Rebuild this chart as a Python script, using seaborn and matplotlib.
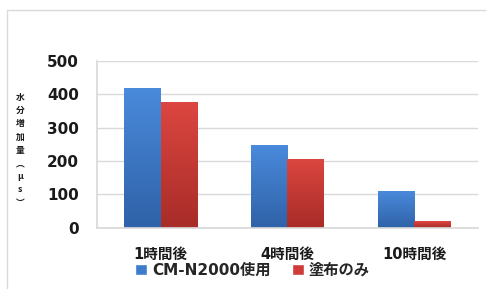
import matplotlib
matplotlib.use("Agg")
import matplotlib.pyplot as plt
import numpy as np
import pandas as pd
import seaborn as sns
from matplotlib.colors import LinearSegmentedColormap
from matplotlib.patches import Rectangle

times = ["1時間後", "4時間後", "10時間後"]
series = ["CM-N2000使用", "塗布のみ"]
cm_n2000 = [417, 248, 109]
coating_only = [375, 207, 19]
yticks = [0, 100, 200, 300, 400, 500]
ylabel = "水\n分\n増\n加\n量\n︵\nμ\ns\n︶"

sns.set_theme(style="white")
plt.rcParams["font.family"] = ["DejaVu Sans", "Noto Sans CJK JP"]

df = pd.DataFrame({
    "time": times * 2,
    "series": [series[0]] * 3 + [series[1]] * 3,
    "value": cm_n2000 + coating_only,
})

colors = {series[0]: "#3D7CCB", series[1]: "#CF3B36"}
grads = {
    series[0]: LinearSegmentedColormap.from_list("b", ["#2F62A8", "#4A8ADB"]),
    series[1]: LinearSegmentedColormap.from_list("r", ["#A82C28", "#DC4640"]),
}

fig = plt.figure(figsize=(4.86, 2.89), dpi=100)
ax = fig.add_axes([0.1996, 0.212, 0.7839, 0.578])

sns.barplot(data=df, x="time", y="value", hue="series", palette=colors,
            width=0.58, gap=0, saturation=1, edgecolor="none", legend=False, ax=ax)

# vertical gradient fill like the Excel bars
grad = np.linspace(0, 1, 64).reshape(-1, 1)
for cont, name in zip(ax.containers, series):
    for p in cont.patches:
        x0, y0 = p.get_x(), p.get_y()
        w, h = p.get_width(), p.get_height()
        im = ax.imshow(grad, extent=[x0, x0 + w, y0, y0 + h], origin="lower",
                       cmap=grads[name], aspect="auto", zorder=p.get_zorder() + 0.1)
        im.set_clip_path(p)

ax.set_xlim(-0.5, 2.5)
ax.set_ylim(0, 500)
ax.set_yticks(yticks)
ax.yaxis.grid(True, color="#D9D9D9", linewidth=1)
ax.set_axisbelow(True)
for s in ["top", "right"]:
    ax.spines[s].set_visible(False)
ax.spines["left"].set_color("#D9D9D9")
ax.spines["bottom"].set_color("#D9D9D9")
ax.tick_params(axis="y", length=0, pad=13, labelsize=11, labelcolor="#1a1a1a")
ax.tick_params(axis="x", length=0, pad=14, labelsize=10.5, labelcolor="#1a1a1a")
for t in ax.get_yticklabels() + ax.get_xticklabels():
    t.set_fontweight("bold")
ax.set_xlabel("")
ax.set_ylabel("")

fig.text(0.041, 0.48, ylabel, ha="center", va="center", fontsize=6.3,
         fontweight="bold", linespacing=1.6, color="#1a1a1a",
         family=["Noto Sans CJK JP", "DejaVu Sans"])

handles = [Rectangle((0, 0), 1, 1, facecolor=colors[s]) for s in series]
leg = fig.legend(handles, series, loc="center", bbox_to_anchor=(0.52, 0.065), ncol=2,
                 frameon=False, handlelength=0.75, handleheight=0.75,
                 handletextpad=0.35, columnspacing=1.4,
                 prop={"size": 11, "weight": "bold"})

# outer chart frame
fig.add_artist(Rectangle((0.0144, -0.05), 1.05, 1.015, transform=fig.transFigure,
                         fill=False, edgecolor="#D9D9D9", linewidth=1))

fig.savefig("out.png", dpi=100)
